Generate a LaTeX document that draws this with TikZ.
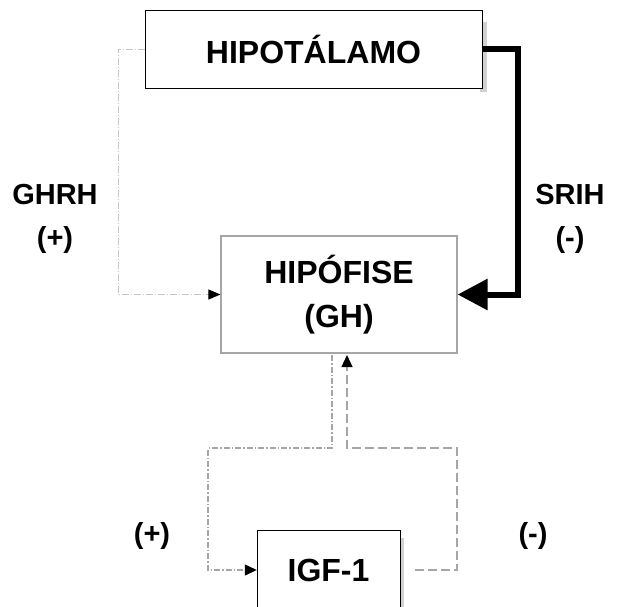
\documentclass[tikz,border=0pt]{standalone}
\usepackage{fontspec}
\setmainfont{Liberation Sans}
\usetikzlibrary{arrows.meta, positioning}

\begin{document}
\begin{tikzpicture}[x=1pt,y=-1pt,
  box/.style={draw, rectangle, inner sep=0pt, font=\fontsize{32}{44}\selectfont\bfseries, align=center},
  lbl/.style={font=\fontsize{29}{43}\selectfont\bfseries, align=center},
  boxshadow/.style={fill=gray!35, draw=none},
  ghrhline/.style={gray!45, line width=1pt, dash pattern=on 7pt off 2pt on 1pt off 2pt, -{Triangle[length=12pt,width=10pt,color=black]}},
  srihline/.style={black, line width=6pt, -{Triangle[length=30pt,width=30pt]}},
  igfin/.style={gray!70, line width=1.3pt, dash pattern=on 6pt off 2pt on 1.5pt off 2pt, -{Triangle[length=12pt,width=11pt,color=black]}},
  igfback/.style={gray!70, line width=1.3pt, dash pattern=on 9pt off 4pt, -{Triangle[length=12pt,width=11pt,color=black]}}]
\useasboundingbox (0,0) rectangle (617,606);
\clip (0,0) rectangle (617,606);
\fill[white] (0,0) rectangle (617,606);
% boxes
\fill[boxshadow] (480,22) rectangle (487,92);
\node[box, fill=white, minimum width=337pt, minimum height=78pt] (hipot) at (313.5,49) {HIPOTÁLAMO};
\node[box, draw=gray!70, line width=1.2pt, minimum width=236pt, minimum height=117pt] (hipof) at (339,294.5) {HIPÓFISE\\(GH)};
\fill[boxshadow] (398,538) rectangle (404,610);
\node[box, fill=white, minimum width=143pt, minimum height=80pt] (igf) at (328.5,570) {IGF-1};
% labels
\node[lbl] (ghrh) at (55,219) {GHRH\\(+)};
\node[lbl] (srih) at (570,219) {SRIH\\(-)};
\node[lbl] (plus) at (152,536) {(+)};
\node[lbl] (minus) at (533,536) {(-)};
% hipotalamo -> hipofise
\coordinate (gl) at (118,294.5);
\coordinate (sr) at (518,294.5);
\draw[ghrhline] (hipot.west) -| (gl) -- (hipof.west);
\draw[srihline] (hipot.east) -| (sr) -- (hipof.east);
% feedback loop with IGF-1
\coordinate (gout) at (332,355);
\coordinate (bl) at (208,448);
\coordinate (gin) at (347,355);
\coordinate (br) at (457,448);
\coordinate (igfr) at (415,570);
\draw[igfin] (gout) |- (bl) |- (igf.west);
\draw[igfback] (igfr) -| (br) -| (gin);
\end{tikzpicture}
\end{document}
